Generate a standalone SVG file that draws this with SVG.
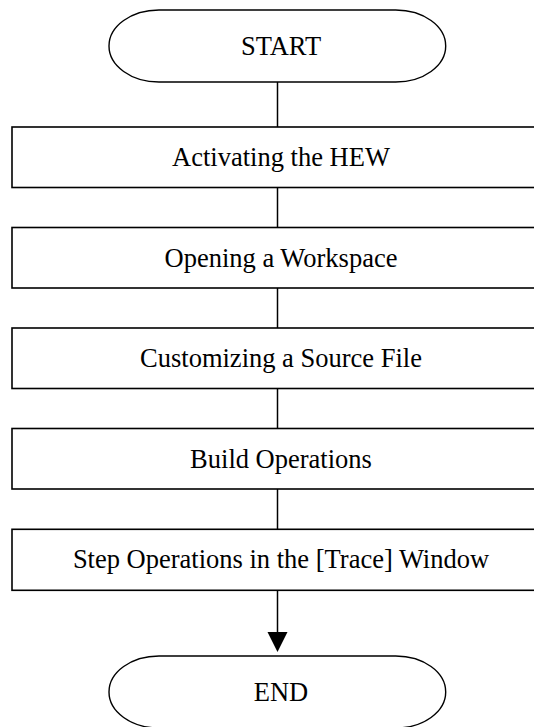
<svg xmlns="http://www.w3.org/2000/svg" width="534" height="727" viewBox="0 0 534 727">
<style>
.term{fill:#fff;stroke:#000;stroke-width:1.4}
.box{fill:#fff;stroke:#000;stroke-width:1.6}
.lbl{font-family:"Liberation Serif","Times New Roman",serif;font-size:26.5px;fill:#000;text-anchor:middle}
.conn{stroke:#000;stroke-width:1.5;fill:none}
</style>
<rect width="534" height="727" fill="#fff"/>
<g id="connectors">
<line class="conn" x1="277.5" y1="82" x2="277.5" y2="127"/>
<line class="conn" x1="277.5" y1="187.5" x2="277.5" y2="227.5"/>
<line class="conn" x1="277.5" y1="288" x2="277.5" y2="328"/>
<line class="conn" x1="277.5" y1="388.5" x2="277.5" y2="428.5"/>
<line class="conn" x1="277.5" y1="489" x2="277.5" y2="529.3"/>
<line class="conn" x1="277.5" y1="590" x2="277.5" y2="634"/>
<polygon points="267.5,632 287.5,632 277.5,652" fill="#000"/>
</g>
<g id="start">
<path class="term" d="M159,10 H395.7 A50,36 0 0 1 395.7,82 H159 A50,36 0 0 1 159,10 Z"/>
<text class="lbl" x="281" y="54.5">START</text>
</g>
<g id="n1">
<rect class="box" x="12" y="127" width="531" height="60.5"/>
<text class="lbl" x="281" y="166">Activating the HEW</text>
</g>
<g id="n2">
<rect class="box" x="12" y="227.5" width="531" height="60.5"/>
<text class="lbl" x="281" y="266.5">Opening a Workspace</text>
</g>
<g id="n3">
<rect class="box" x="12" y="328" width="531" height="60.5"/>
<text class="lbl" x="281" y="367">Customizing a Source File</text>
</g>
<g id="n4">
<rect class="box" x="12" y="428.5" width="531" height="60.5"/>
<text class="lbl" x="281" y="467.5">Build Operations</text>
</g>
<g id="n5">
<rect class="box" x="12" y="529.3" width="531" height="61"/>
<text class="lbl" x="281" y="568.3">Step Operations in the [Trace] Window</text>
</g>
<g id="end">
<path class="term" d="M159,656 H395.7 A50,36 0 0 1 395.7,728 H159 A50,36 0 0 1 159,656 Z"/>
<text class="lbl" x="281" y="700.5">END</text>
</g>
</svg>
